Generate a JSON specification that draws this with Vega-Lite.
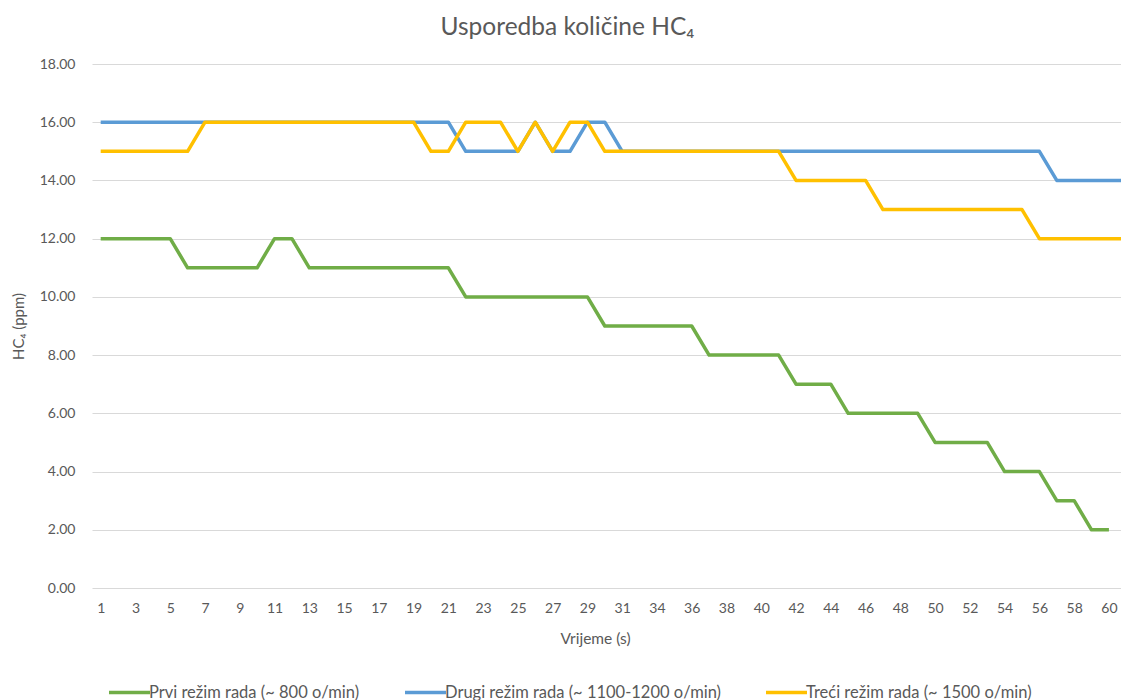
{
  "$schema": "https://vega.github.io/schema/vega-lite/v6.json",
  "autosize": "none",
  "width": 1029,
  "height": 524,
  "padding": {"left": 92, "top": 64, "right": 0, "bottom": 112},
  "background": "white",
  "config": {
    "view": {"stroke": null},
    "font": "Lato"
  },
  "title": {
    "text": "Usporedba količine HC₄",
    "font": "Lato",
    "fontSize": 24.5,
    "fontWeight": "normal",
    "color": "#595959",
    "anchor": "middle",
    "frame": "group",
    "dx": -39,
    "offset": 17
  },
  "data": {
    "values": [
      {"t": "1", "prvi": 12, "drugi": 16, "treci": 15},
      {"t": "2", "prvi": 12, "drugi": 16, "treci": 15},
      {"t": "3", "prvi": 12, "drugi": 16, "treci": 15},
      {"t": "4", "prvi": 12, "drugi": 16, "treci": 15},
      {"t": "5", "prvi": 12, "drugi": 16, "treci": 15},
      {"t": "6", "prvi": 11, "drugi": 16, "treci": 15},
      {"t": "7", "prvi": 11, "drugi": 16, "treci": 16},
      {"t": "8", "prvi": 11, "drugi": 16, "treci": 16},
      {"t": "9", "prvi": 11, "drugi": 16, "treci": 16},
      {"t": "10", "prvi": 11, "drugi": 16, "treci": 16},
      {"t": "11", "prvi": 12, "drugi": 16, "treci": 16},
      {"t": "12", "prvi": 12, "drugi": 16, "treci": 16},
      {"t": "13", "prvi": 11, "drugi": 16, "treci": 16},
      {"t": "14", "prvi": 11, "drugi": 16, "treci": 16},
      {"t": "15", "prvi": 11, "drugi": 16, "treci": 16},
      {"t": "16", "prvi": 11, "drugi": 16, "treci": 16},
      {"t": "17", "prvi": 11, "drugi": 16, "treci": 16},
      {"t": "18", "prvi": 11, "drugi": 16, "treci": 16},
      {"t": "19", "prvi": 11, "drugi": 16, "treci": 16},
      {"t": "20", "prvi": 11, "drugi": 16, "treci": 15},
      {"t": "21", "prvi": 11, "drugi": 16, "treci": 15},
      {"t": "22", "prvi": 10, "drugi": 15, "treci": 16},
      {"t": "23", "prvi": 10, "drugi": 15, "treci": 16},
      {"t": "24", "prvi": 10, "drugi": 15, "treci": 16},
      {"t": "25", "prvi": 10, "drugi": 15, "treci": 15},
      {"t": "26", "prvi": 10, "drugi": 16, "treci": 16},
      {"t": "27", "prvi": 10, "drugi": 15, "treci": 15},
      {"t": "28", "prvi": 10, "drugi": 15, "treci": 16},
      {"t": "29", "prvi": 10, "drugi": 16, "treci": 16},
      {"t": "30", "prvi": 9, "drugi": 16, "treci": 15},
      {"t": "31", "prvi": 9, "drugi": 15, "treci": 15},
      {"t": "32", "prvi": 9, "drugi": 15, "treci": 15},
      {"t": "34", "prvi": 9, "drugi": 15, "treci": 15},
      {"t": "35", "prvi": 9, "drugi": 15, "treci": 15},
      {"t": "36", "prvi": 9, "drugi": 15, "treci": 15},
      {"t": "37", "prvi": 8, "drugi": 15, "treci": 15},
      {"t": "38", "prvi": 8, "drugi": 15, "treci": 15},
      {"t": "39", "prvi": 8, "drugi": 15, "treci": 15},
      {"t": "40", "prvi": 8, "drugi": 15, "treci": 15},
      {"t": "41", "prvi": 8, "drugi": 15, "treci": 15},
      {"t": "42", "prvi": 7, "drugi": 15, "treci": 14},
      {"t": "43", "prvi": 7, "drugi": 15, "treci": 14},
      {"t": "44", "prvi": 7, "drugi": 15, "treci": 14},
      {"t": "45", "prvi": 6, "drugi": 15, "treci": 14},
      {"t": "46", "prvi": 6, "drugi": 15, "treci": 14},
      {"t": "47", "prvi": 6, "drugi": 15, "treci": 13},
      {"t": "48", "prvi": 6, "drugi": 15, "treci": 13},
      {"t": "49", "prvi": 6, "drugi": 15, "treci": 13},
      {"t": "50", "prvi": 5, "drugi": 15, "treci": 13},
      {"t": "51", "prvi": 5, "drugi": 15, "treci": 13},
      {"t": "52", "prvi": 5, "drugi": 15, "treci": 13},
      {"t": "53", "prvi": 5, "drugi": 15, "treci": 13},
      {"t": "54", "prvi": 4, "drugi": 15, "treci": 13},
      {"t": "55", "prvi": 4, "drugi": 15, "treci": 13},
      {"t": "56", "prvi": 4, "drugi": 15, "treci": 12},
      {"t": "57", "prvi": 3, "drugi": 14, "treci": 12},
      {"t": "58", "prvi": 3, "drugi": 14, "treci": 12},
      {"t": "59", "prvi": 2, "drugi": 14, "treci": 12},
      {"t": "60", "prvi": 2, "drugi": 14, "treci": 12},
      {"t": "61", "drugi": 14, "treci": 12}
    ]
  },
  "transform": [
    {"fold": ["prvi", "drugi", "treci"], "as": ["serija", "ppm"]},
    {"filter": "isValid(datum.ppm)"}
  ],
  "mark": {"type": "line", "strokeWidth": 3.5, "strokeJoin": "round", "clip": true},
  "encoding": {
    "x": {
      "field": "t",
      "type": "ordinal",
      "sort": null,
      "scale": {"type": "point", "padding": 0.5, "range": [0, 1043]},
      "axis": {
        "title": "Vrijeme (s)",
        "values": ["1","3","5","7","9","11","13","15","17","19","21","23","25","27","29","31","34","36","38","40","42","44","46","48","50","52","54","56","58","60"],
        "labelAngle": 0,
        "labelFont": "Lato",
        "labelFontSize": 14,
        "labelColor": "#595959",
        "labelPadding": 13,
        "ticks": false,
        "domain": false,
        "grid": false,
        "titleFont": "Lato",
        "titleFontSize": 15.5,
        "titleFontWeight": "normal",
        "titleColor": "#595959",
        "titlePadding": 16,
        "titleX": 503
      }
    },
    "y": {
      "field": "ppm",
      "type": "quantitative",
      "scale": {"domain": [0, 18], "nice": false, "zero": true},
      "axis": {
        "title": "HC₄ (ppm)",
        "values": [0, 2, 4, 6, 8, 10, 12, 14, 16, 18],
        "format": ".2f",
        "labelFont": "Lato",
        "labelFontSize": 14,
        "labelColor": "#595959",
        "labelPadding": 17,
        "ticks": false,
        "domain": false,
        "grid": true,
        "gridColor": "#D9D9D9",
        "gridWidth": 1,
        "titleFont": "Lato",
        "titleFontSize": 15,
        "titleFontWeight": "normal",
        "titleColor": "#595959",
        "titlePadding": 13
      }
    },
    "color": {
      "field": "serija",
      "type": "nominal",
      "scale": {"domain": ["prvi", "drugi", "treci"], "range": ["#70AD47", "#5B9BD5", "#FFC000"]},
      "legend": {
        "title": null,
        "orient": "none",
        "direction": "horizontal",
        "legendX": 15,
        "legendY": 606,
        "symbolType": "stroke",
        "symbolSize": 1681,
        "symbolStrokeWidth": 3.5,
        "labelFont": "Lato",
        "labelFontSize": 16.5,
        "labelColor": "#595959",
        "labelOffset": -3,
        "labelLimit": 400,
        "columnPadding": 38,
        "labelExpr": "datum.value == 'prvi' ? 'Prvi režim rada (~ 800 o/min)' : datum.value == 'drugi' ? 'Drugi režim rada (~ 1100-1200 o/min)' : 'Treći režim rada (~ 1500 o/min)'"
      }
    }
  }
}
